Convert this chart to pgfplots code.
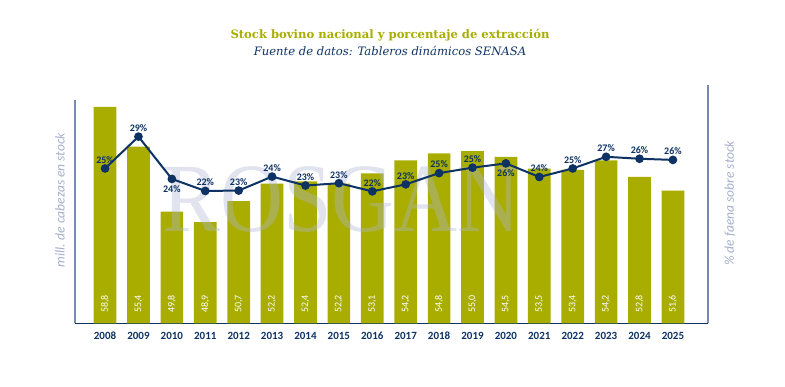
\documentclass[border=0pt]{standalone}
\usepackage{pgfplots}
\pgfplotsset{compat=1.18}
\usepackage{pgfplotstable}
\usepackage{fontspec}
\setmainfont{Carlito}
\newfontfamily\titlefont{DejaVu Serif}
\newfontfamily\markfont{Liberation Serif}
\definecolor{olive}{RGB}{168,173,0}
\definecolor{navy}{RGB}{13,50,99}
\definecolor{axgray}{RGB}{120,138,175}
\definecolor{labgray}{RGB}{165,175,205}
\definecolor{wm}{RGB}{175,182,212}

\pgfplotstableread{
x val lab
0 58.8 {58,8}
1 55.4 {55,4}
2 49.8 {49,8}
3 48.9 {48,9}
4 50.7 {50,7}
5 52.2 {52,2}
6 52.4 {52,4}
7 52.2 {52,2}
8 53.1 {53,1}
9 54.2 {54,2}
10 54.8 {54,8}
11 55.0 {55,0}
12 54.5 {54,5}
13 53.5 {53,5}
14 53.4 {53,4}
15 54.2 {54,2}
16 52.8 {52,8}
17 51.6 {51,6}
}\stock

\pgfplotstableread{
x pct lab
0 24.9 {25\%}
1 29.0 {29\%}
2 23.55 {24\%}
3 22.0 {22\%}
4 22.05 {23\%}
5 23.85 {24\%}
6 22.7 {23\%}
7 23.0 {23\%}
8 21.95 {22\%}
9 22.85 {23\%}
10 24.3 {25\%}
11 25.0 {25\%}
12 25.55 {26\%}
13 23.8 {24\%}
14 24.9 {25\%}
15 26.4 {27\%}
16 26.15 {26\%}
17 26.0 {26\%}
}\pct

\pgfplotstableread{
x pct lab
0 24.9 {25\%}
1 29.0 {29\%}
3 22.0 {22\%}
4 22.05 {23\%}
5 23.85 {24\%}
6 22.7 {23\%}
7 23.0 {23\%}
8 21.95 {22\%}
9 22.85 {23\%}
10 24.3 {25\%}
11 25.0 {25\%}
13 23.8 {24\%}
14 24.9 {25\%}
15 26.4 {27\%}
16 26.15 {26\%}
17 26.0 {26\%}
}\pctup

\pgfplotstableread{
x pct lab
2 23.55 {24\%}
12 25.55 {26\%}
}\pctdown

\begin{document}
\begin{tikzpicture}[x=1pt,y=1pt]
\path[use as bounding box] (-75,-62.7) rectangle (710,323.3);
% titles
\node[font={\titlefont\bfseries\fontsize{11.6}{13}\selectfont}, text=olive] at (315,288.5) {Stock bovino nacional y porcentaje de extracción};
\node[font={\titlefont\itshape\fontsize{11.6}{13}\selectfont}, text=navy] at (315,272) {Fuente de datos: Tableros dinámicos SENASA};
% axis labels
\node[rotate=90, font={\itshape\fontsize{13.5}{15}\selectfont}, text=labgray] at (-15,123) {mill. de cabezas en stock};
\node[rotate=90, font={\itshape\fontsize{13.5}{15}\selectfont}, text=labgray] at (655,120) {\% de faena sobre stock};

\begin{axis}[
  at={(0,0)}, anchor=south west,
  scale only axis, width=633pt, height=223.3pt,
  xmin=-0.9, xmax=18.05, ymin=40.2, ymax=59.4,
  axis x line=bottom, axis y line=left,
  x axis line style={-, draw=navy, line width=1pt},
  y axis line style={-, draw=axgray, line width=1.2pt},
  xtick={0,...,17},
  xticklabels={2008,2009,2010,2011,2012,2013,2014,2015,2016,2017,2018,2019,2020,2021,2022,2023,2024,2025},
  xticklabel style={font={\bfseries\fontsize{11}{12}\selectfont}, text=navy, yshift=-5pt},
  major tick length=0pt,
  ytick=\empty,
]
\addplot[ybar, bar width=22.7pt, fill=olive, draw=none] table[x=x,y=val] {\stock};
\addplot[draw=none, mark=none, nodes near coords, point meta=explicit symbolic,
  nodes near coords style={rotate=90, anchor=center, text=white, font={\fontsize{10}{11}\selectfont}}]
  table[x=x, y expr=41.85, meta=lab] {\stock};
\end{axis}

% watermark
\node[font={\markfont\fontsize{98}{100}\selectfont}, text=wm, opacity=0.38, xscale=0.89, anchor=base] at (266.5,91.3) {ROSGAN};

\begin{axis}[
  at={(0,0)}, anchor=south west,
  scale only axis, width=633pt, height=238.3pt,
  xmin=-0.9, xmax=18.05, ymin=4.95, ymax=35.65,
  axis x line=none, axis y line=right,
  y axis line style={-, draw=axgray, line width=1.2pt},
  ytick=\empty, xtick=\empty,
  clip=false,
]
\addplot[navy, line width=2pt, mark=*, mark size=3.3pt, mark options={fill=navy, draw=navy}] table[x=x,y=pct] {\pct};
\addplot[draw=none, mark=none, nodes near coords, point meta=explicit symbolic,
  nodes near coords style={anchor=south, yshift=1.5pt, text=navy, font={\bfseries\fontsize{10}{11}\selectfont}}]
  table[x=x, y=pct, meta=lab] {\pctup};
\addplot[draw=none, mark=none, nodes near coords, point meta=explicit symbolic,
  nodes near coords style={anchor=north, yshift=-3pt, text=navy, font={\bfseries\fontsize{10}{11}\selectfont}}]
  table[x=x, y=pct, meta=lab] {\pctdown};
\end{axis}
\end{tikzpicture}
\end{document}
